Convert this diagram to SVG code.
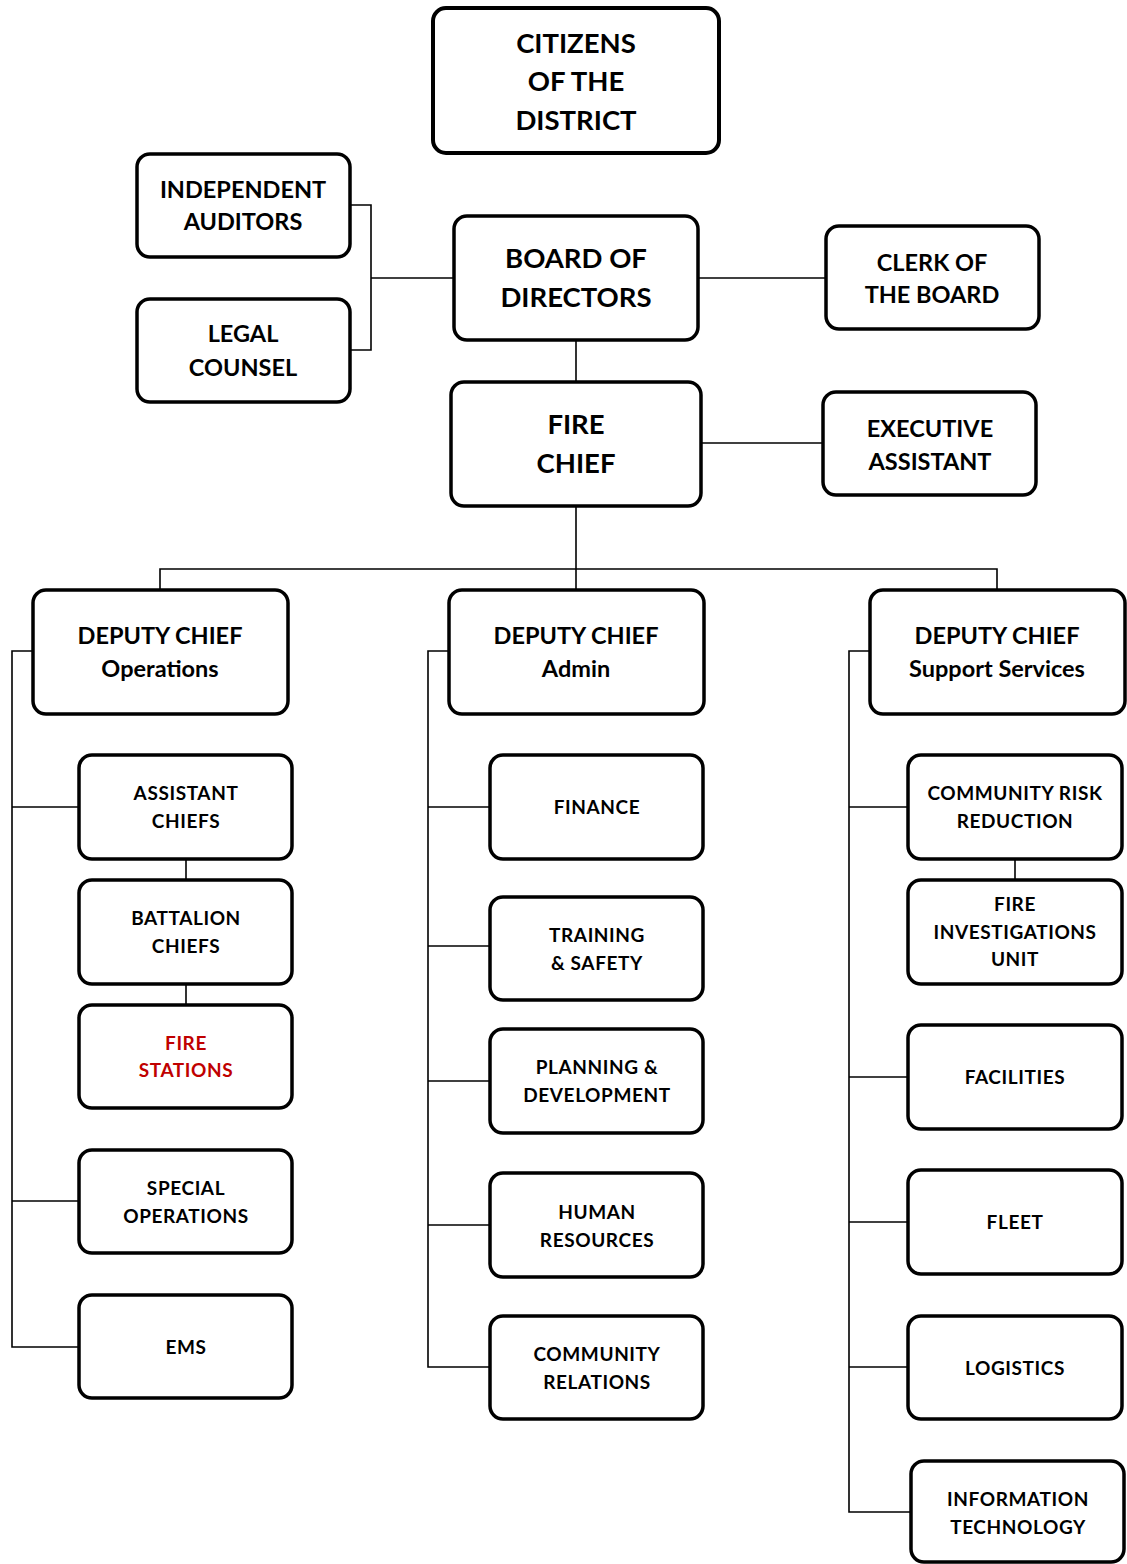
<svg xmlns="http://www.w3.org/2000/svg" width="1127" height="1564" viewBox="0 0 1127 1564">
<style>
.box{fill:#fff;stroke:#000;stroke-width:3.5}
.big{stroke-width:4}
.t{font-family:Lato,"Open Sans","Liberation Sans",sans-serif;font-weight:bold;fill:#000;text-anchor:middle}
.xl{font-size:27.5px}
.lg{font-size:23.5px}
.sm{font-size:19px;letter-spacing:0.6px}
.red{fill:#C00000}
.c{fill:none;stroke:#000;stroke-width:1.6}
</style>
<rect width="1127" height="1564" fill="#fff"/>
<g id="connectors">
<polyline class="c" points="350,205 371,205 371,350 350,350"/>
<line class="c" x1="371" y1="278" x2="454" y2="278"/>
<line class="c" x1="698" y1="278" x2="826" y2="278"/>
<line class="c" x1="576" y1="340" x2="576" y2="382"/>
<line class="c" x1="701" y1="443" x2="823" y2="443"/>
<line class="c" x1="576" y1="506" x2="576" y2="590"/>
<polyline class="c" points="160,590 160,569 997,569 997,590"/>
<polyline class="c" points="33,651 12,651 12,1347 79,1347"/>
<line class="c" x1="12" y1="807" x2="79" y2="807"/>
<line class="c" x1="12" y1="1201" x2="79" y2="1201"/>
<line class="c" x1="186" y1="859" x2="186" y2="880"/>
<line class="c" x1="186" y1="984" x2="186" y2="1005"/>
<polyline class="c" points="449,651 428,651 428,1367 490,1367"/>
<line class="c" x1="428" y1="807" x2="490" y2="807"/>
<line class="c" x1="428" y1="946" x2="490" y2="946"/>
<line class="c" x1="428" y1="1081" x2="490" y2="1081"/>
<line class="c" x1="428" y1="1225" x2="490" y2="1225"/>
<polyline class="c" points="870,651 849,651 849,1512 911,1512"/>
<line class="c" x1="849" y1="807" x2="908" y2="807"/>
<line class="c" x1="849" y1="1077" x2="908" y2="1077"/>
<line class="c" x1="849" y1="1222" x2="908" y2="1222"/>
<line class="c" x1="849" y1="1367" x2="908" y2="1367"/>
<line class="c" x1="1015" y1="859" x2="1015" y2="880"/>
</g>
<g id="citizens"><rect class="box big" x="433" y="8" width="286" height="145" rx="13"/>
<text class="t xl" x="576" y="53">CITIZENS</text><text class="t xl" x="576" y="91">OF THE</text><text class="t xl" x="576" y="130">DISTRICT</text></g>
<g id="auditors"><rect class="box" x="137" y="154" width="213" height="103" rx="13"/>
<text class="t lg" x="243" y="198">INDEPENDENT</text><text class="t lg" x="243" y="230">AUDITORS</text></g>
<g id="legal"><rect class="box" x="137" y="299" width="213" height="103" rx="13"/>
<text class="t lg" x="243" y="342">LEGAL</text><text class="t lg" x="243" y="376">COUNSEL</text></g>
<g id="board"><rect class="box" x="454" y="216" width="244" height="124" rx="13"/>
<text class="t xl" x="576" y="268">BOARD OF</text><text class="t xl" x="576" y="307">DIRECTORS</text></g>
<g id="clerk"><rect class="box" x="826" y="226" width="213" height="103" rx="13"/>
<text class="t lg" x="932" y="271">CLERK OF</text><text class="t lg" x="932" y="303">THE BOARD</text></g>
<g id="firechief"><rect class="box" x="451" y="382" width="250" height="124" rx="13"/>
<text class="t xl" x="576" y="434">FIRE</text><text class="t xl" x="576" y="473">CHIEF</text></g>
<g id="exec"><rect class="box" x="823" y="392" width="213" height="103" rx="13"/>
<text class="t lg" x="930" y="437">EXECUTIVE</text><text class="t lg" x="930" y="470">ASSISTANT</text></g>
<g id="dc-ops"><rect class="box" x="33" y="590" width="255" height="124" rx="13"/>
<text class="t lg" x="160" y="644">DEPUTY CHIEF</text><text class="t lg" x="160" y="677">Operations</text></g>
<g id="dc-admin"><rect class="box" x="449" y="590" width="255" height="124" rx="13"/>
<text class="t lg" x="576" y="644">DEPUTY CHIEF</text><text class="t lg" x="576" y="677">Admin</text></g>
<g id="dc-support"><rect class="box" x="870" y="590" width="255" height="124" rx="13"/>
<text class="t lg" x="997" y="644">DEPUTY CHIEF</text><text class="t lg" x="997" y="677">Support Services</text></g>
<g id="asst"><rect class="box" x="79" y="755" width="213" height="104" rx="13"/>
<text class="t sm" x="186" y="800">ASSISTANT</text><text class="t sm" x="186" y="828">CHIEFS</text></g>
<g id="battalion"><rect class="box" x="79" y="880" width="213" height="104" rx="13"/>
<text class="t sm" x="186" y="925">BATTALION</text><text class="t sm" x="186" y="953">CHIEFS</text></g>
<g id="stations"><rect class="box" x="79" y="1005" width="213" height="103" rx="13"/>
<text class="t sm red" x="186" y="1050">FIRE</text><text class="t sm red" x="186" y="1077">STATIONS</text></g>
<g id="specops"><rect class="box" x="79" y="1150" width="213" height="103" rx="13"/>
<text class="t sm" x="186" y="1195">SPECIAL</text><text class="t sm" x="186" y="1223">OPERATIONS</text></g>
<g id="ems"><rect class="box" x="79" y="1295" width="213" height="103" rx="13"/>
<text class="t sm" x="186" y="1354">EMS</text></g>
<g id="finance"><rect class="box" x="490" y="755" width="213" height="104" rx="13"/>
<text class="t sm" x="597" y="814">FINANCE</text></g>
<g id="training"><rect class="box" x="490" y="897" width="213" height="103" rx="13"/>
<text class="t sm" x="597" y="942">TRAINING</text><text class="t sm" x="597" y="970">&amp; SAFETY</text></g>
<g id="planning"><rect class="box" x="490" y="1029" width="213" height="104" rx="13"/>
<text class="t sm" x="597" y="1074">PLANNING &amp;</text><text class="t sm" x="597" y="1102">DEVELOPMENT</text></g>
<g id="hr"><rect class="box" x="490" y="1173" width="213" height="104" rx="13"/>
<text class="t sm" x="597" y="1219">HUMAN</text><text class="t sm" x="597" y="1247">RESOURCES</text></g>
<g id="commrel"><rect class="box" x="490" y="1316" width="213" height="103" rx="13"/>
<text class="t sm" x="597" y="1361">COMMUNITY</text><text class="t sm" x="597" y="1389">RELATIONS</text></g>
<g id="crr"><rect class="box" x="908" y="755" width="214" height="104" rx="13"/>
<text class="t sm" x="1015" y="800">COMMUNITY RISK</text><text class="t sm" x="1015" y="828">REDUCTION</text></g>
<g id="fiu"><rect class="box" x="908" y="880" width="214" height="104" rx="13"/>
<text class="t sm" x="1015" y="911">FIRE</text><text class="t sm" x="1015" y="939">INVESTIGATIONS</text><text class="t sm" x="1015" y="966">UNIT</text></g>
<g id="facilities"><rect class="box" x="908" y="1025" width="214" height="104" rx="13"/>
<text class="t sm" x="1015" y="1084">FACILITIES</text></g>
<g id="fleet"><rect class="box" x="908" y="1170" width="214" height="104" rx="13"/>
<text class="t sm" x="1015" y="1229">FLEET</text></g>
<g id="logistics"><rect class="box" x="908" y="1316" width="214" height="103" rx="13"/>
<text class="t sm" x="1015" y="1375">LOGISTICS</text></g>
<g id="it"><rect class="box" x="911" y="1461" width="213" height="101" rx="13"/>
<text class="t sm" x="1018" y="1506">INFORMATION</text><text class="t sm" x="1018" y="1534">TECHNOLOGY</text></g>
</svg>
